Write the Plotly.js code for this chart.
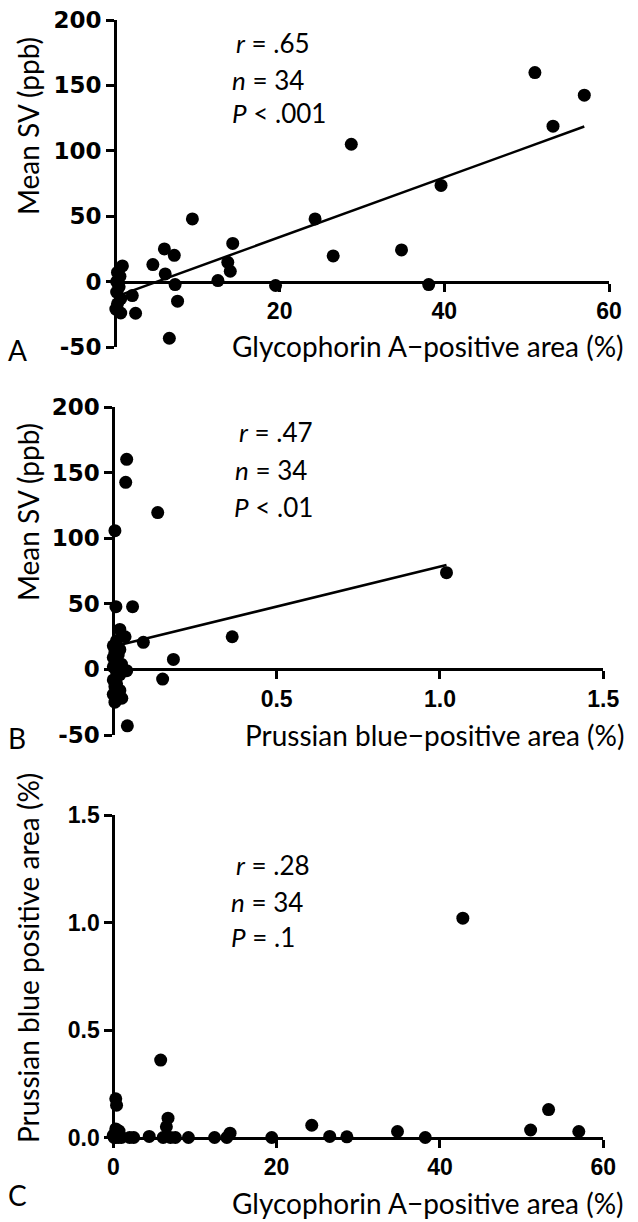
<!DOCTYPE html>
<html>
<head>
<meta charset="utf-8">
<script src="https://cdn.plot.ly/plotly-3.0.1.min.js"></script>
<style>html,body{margin:0;padding:0;background:#fff;}</style>
</head>
<body>
<div id="chart" style="width:638px;height:1222px;"></div>
<script>
// Panel A: Glycophorin A-positive area (%) vs Mean SV (ppb)
const glyA = [0.9,0.3,0.6,0.2,0.5,0.2,0.7,0.3,0.1,0.7,
  2.1,2.5,4.6,6.0,6.1,6.6,7.2,7.3,7.6,9.4,12.5,13.7,14.0,14.3,19.5,24.3,26.5,28.7,34.8,38.1,39.6,51.0,53.2,57.0];
const svA  = [12,7,4,0,-4,-8,-13,-17,-21,-24,
  -10.7,-24.2,13,25,5.9,-43.3,20.1,-2.3,-15,47.9,0.8,14.7,7.9,29.2,-3,47.9,19.6,105,24.2,-2.3,73.5,159.8,118.8,142.5];
// Panel B: Prussian blue-positive area (%) vs Mean SV (ppb)
const pbB = [0.041,0.038,0.136,0.005,1.02,0.008,0.059,0.02,0.036,0.364,0.092,0.184,0.151,0.041,0.026,0.043,
  0.01,0.0,0.02,0.005,0.015,0.0,0.01,0.025,0.0,0.01,0.02,0.0,0.01,0.005,0.02,0.0,0.01,0.005];
const svB = [160.1,142.6,119.5,105.7,73.7,47.8,47.8,30.5,24.9,24.9,20.6,7.6,-7.4,-1,-22,-43,
  22,18,15,13,11,9,6,4,2,-2,-4,-8,-11,-13,-16,-19,-22,-25];
// Panel C: Glycophorin A-positive area (%) vs Prussian blue positive area (%)
const glyC = [0.3,0.4,0.3,0.0,0.2,0.5,0.8,1.0,0.1,0.6,0.7,2.0,2.5,4.4,5.8,6.1,6.5,6.7,7.0,7.6,9.2,12.4,13.9,14.3,19.4,24.3,26.5,28.6,34.8,38.2,42.8,51.1,53.3,57.0];
const pbC  = [0.18,0.15,0.04,0.01,0.0,0.02,0.01,0.0,0.0,0.0,0.03,0.0,0.0,0.005,0.36,0.0,0.05,0.09,0.0,0.0,0.0,0.0,0.0,0.02,0.0,0.057,0.005,0.003,0.028,0.0,1.02,0.035,0.13,0.028];
// Regression lines: [intercept, slope]
const fitA = [-11.7, 2.285];
const fitB = [17.4, 61.0];
// Tick values / labels
const svTicks = [-50,0,50,100,150,200];
const svTickText = ['-50','0','50','100','150','200'];
const glyTicksA = [20,40,60];
const glyTickTextA = ['20','40','60'];
const pbTicksB = [0.5,1.0,1.5];
const pbTickTextB = ['0.5','1.0','1.5'];
const glyTicksC = [0,20,40,60];
const glyTickTextC = ['0','20','40','60'];
const pbTicksC = [0,0.5,1.0,1.5];
const pbTickTextC = ['0.0','0.5','1.0','1.5'];
const statsA = ['<i>r</i> = .65','<i>n</i> = 34','<i>P</i> < .001'];
const statsB = ['<i>r</i> = .47','<i>n</i> = 34','<i>P</i> < .01'];
const statsC = ['<i>r</i> = .28','<i>n</i> = 34','<i>P</i> = .1'];

const W = 638, H = 1222;
const px = v => v / W;
const py = v => 1 - v / H;

function fitLine(xs, coef, xa, ya) {
  const x0 = Math.min(...xs), x1 = Math.max(...xs);
  return {x:[x0,x1], y:[coef[0]+coef[1]*x0, coef[0]+coef[1]*x1], mode:'lines', type:'scatter',
    xaxis:xa, yaxis:ya, line:{color:'black', width:2.5}, hoverinfo:'skip', cliponaxis:false};
}
function pts(xs, ys, xa, ya) {
  return {x:xs, y:ys, mode:'markers', type:'scatter', xaxis:xa, yaxis:ya,
    marker:{color:'black', size:13, line:{width:0}}, cliponaxis:false};
}

const data = [
  fitLine(glyA, fitA, 'x', 'y'), pts(glyA, svA, 'x', 'y'),
  fitLine(pbB, fitB, 'x2', 'y2'), pts(pbB, svB, 'x2', 'y2'),
  pts(glyC, pbC, 'x3', 'y3')
];

const xTickFont = {family:'Liberation Sans, Arial, sans-serif', size:23, color:'black', weight:'bold'};
const yTickFontAB = {family:'DejaVu Sans, sans-serif', size:23, color:'black', weight:'bold'};

const baseAxis = {showline:true, linewidth:3, linecolor:'black', ticks:'outside', ticklen:8, tickwidth:3,
  tickcolor:'black', showgrid:false, zeroline:false, fixedrange:true, tickmode:'array'};

const domYA = [py(347), py(20)];
const domYB = [py(735), py(407)];
const domYC = [py(1137.5), py(815)];
const zeroPos = (dom, r) => dom[0] + (0 - r[0]) / (r[1] - r[0]) * (dom[1] - dom[0]);

const svRange = [-50, 200];

const layout = {
  width:W, height:H, margin:{l:0,r:0,t:0,b:0}, paper_bgcolor:'white', plot_bgcolor:'rgba(0,0,0,0)',
  showlegend:false,
  xaxis: Object.assign({}, baseAxis, {domain:[px(115), px(609)], range:[0,60], anchor:'free',
    position: zeroPos(domYA, svRange), tickvals:glyTicksA, ticktext:glyTickTextA, tickfont:xTickFont}),
  yaxis: Object.assign({}, baseAxis, {domain:domYA, range:svRange, anchor:'free', position:px(115),
    tickvals:svTicks, ticktext:svTickText, tickfont:yTickFontAB}),
  xaxis2: Object.assign({}, baseAxis, {domain:[px(113.3), px(603.3)], range:[0,1.5], anchor:'free',
    position: zeroPos(domYB, svRange), tickvals:pbTicksB, ticktext:pbTickTextB, tickfont:xTickFont}),
  yaxis2: Object.assign({}, baseAxis, {domain:domYB, range:svRange, anchor:'free', position:px(113.3),
    tickvals:svTicks, ticktext:svTickText, tickfont:yTickFontAB}),
  xaxis3: Object.assign({}, baseAxis, {domain:[px(113.3), px(603.3)], range:[0,60], anchor:'free',
    position: domYC[0], tickvals:glyTicksC, ticktext:glyTickTextC, tickfont:xTickFont}),
  yaxis3: Object.assign({}, baseAxis, {domain:domYC, range:[0,1.5], anchor:'free', position:px(113.3),
    tickvals:pbTicksC, ticktext:pbTickTextC, tickfont:xTickFont}),
  annotations: []
};

const titleFont = {family:'Lato, Open Sans, sans-serif', size:28, color:'black'};
const statFont = {family:'Lato, Open Sans, sans-serif', size:26, color:'black'};
const letterFont = {family:'Lato, Open Sans, sans-serif', size:28, color:'black'};

function ann(text, x, y, opts) {
  layout.annotations.push(Object.assign({text:text, xref:'paper', yref:'paper', x:px(x), y:py(y),
    showarrow:false, xanchor:'left', yanchor:'middle', font:statFont}, opts || {}));
}
// y-axis titles
ann('Mean SV (ppb)', 28, 126, {textangle:-90, xanchor:'center', font:titleFont});
ann('Mean SV (ppb)', 28, 512, {textangle:-90, xanchor:'center', font:titleFont});
ann('Prussian blue positive area (%)', 28, 958, {textangle:-90, xanchor:'center', font:titleFont});
// x-axis titles
ann('Glycophorin A\u2212positive area (%)', 626, 346, {xanchor:'right', font:titleFont});
ann('Prussian blue\u2212positive area (%)', 626, 735, {xanchor:'right', font:titleFont});
ann('Glycophorin A\u2212positive area (%)', 626, 1203, {xanchor:'right', font:titleFont});
// panel letters
ann('A', 6, 350, {font:letterFont});
ann('B', 6, 738, {font:letterFont});
ann('C', 6, 1195, {font:letterFont});
// stats
ann(statsA[0], 234, 43); ann(statsA[1], 230, 80); ann(statsA[2], 230, 113);
ann(statsB[0], 237, 432); ann(statsB[1], 233, 470); ann(statsB[2], 232, 507);
ann(statsC[0], 234, 865); ann(statsC[1], 229, 902); ann(statsC[2], 229, 937);

Plotly.newPlot('chart', data, layout, {displayModeBar:false, staticPlot:true});
</script>
</body>
</html>
